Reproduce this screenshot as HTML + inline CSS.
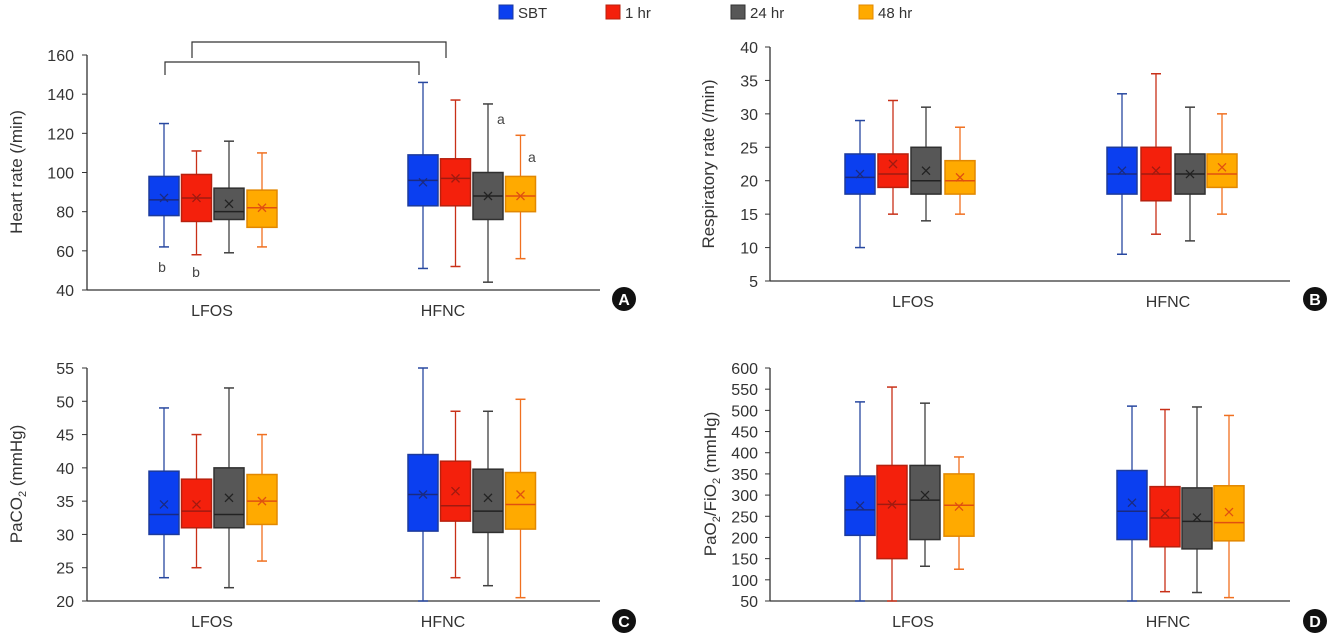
<!DOCTYPE html><html><head><meta charset="utf-8"><style>
body{margin:0;background:#fff}svg{display:block;font-family:"Liberation Sans",sans-serif}
</style></head><body>
<svg id="s" width="1337" height="638" xmlns="http://www.w3.org/2000/svg"></svg>
<script>
const S=document.getElementById('s');let h='';
const fills=['#0b3ff0','#f4200c','#575757','#ffaa00'],bords=['#1c3a9c','#b8200e','#303030','#e28800'],wh=['#2848a0','#c83018','#404040','#f07020'],mk=['#1a2a80','#a01a10','#222','#e05010'];
h+=`<rect x="0" y="0" width="1337" height="638" fill="#fff"/>`;
// legend
[[499,'SBT'],[606,'1 hr'],[731,'24 hr'],[859,'48 hr']].forEach((l,i)=>{h+=`<rect x="${l[0]}" y="5" width="14" height="14" fill="${fills[i]}" stroke="${bords[i]}"/><text x="${l[0]+19}" y="18" font-size="15" fill="#333">${l[1]}</text>`});
function panel(o){
 const {ax,ay0,ay1,ax1,vmin,vmax,step,ticks,lab,labx,labx2,cent,data,tx,letter,lx,ly,ylab,ylx,yly}=o;
 const Y=v=>ay1-(v-vmin)/(vmax-vmin)*(ay1-ay0);
 h+=`<line x1="${ax}" y1="${ay0}" x2="${ax}" y2="${ay1}" stroke="#333" stroke-width="1.3"/><line x1="${ax}" y1="${ay1}" x2="${ax1}" y2="${ay1}" stroke="#333" stroke-width="1.3"/>`;
 for(let v=vmin;v<=vmax+1e-9;v+=step){const y=Y(v);h+=`<line x1="${ax-5}" y1="${y}" x2="${ax}" y2="${y}" stroke="#333"/><text x="${tx}" y="${y+6}" font-size="16" fill="#333" text-anchor="end">${v}</text>`}
 h+=`<text x="${labx}" y="${ay1+26}" font-size="16" fill="#333" text-anchor="middle">LFOS</text><text x="${labx2}" y="${ay1+26}" font-size="16" fill="#333" text-anchor="middle">HFNC</text>`;
 data.forEach((d,k)=>{const i=k%4,c=cent[k],w=15;const [lo,hi,q1,q3,md,mn]=d;
  h+=`<line x1="${c}" y1="${Y(lo)}" x2="${c}" y2="${Y(hi)}" stroke="${wh[i]}" stroke-width="1.3"/><line x1="${c-5}" y1="${Y(lo)}" x2="${c+5}" y2="${Y(lo)}" stroke="${wh[i]}" stroke-width="1.5"/><line x1="${c-5}" y1="${Y(hi)}" x2="${c+5}" y2="${Y(hi)}" stroke="${wh[i]}" stroke-width="1.5"/>`;
  h+=`<rect x="${c-w}" y="${Y(q3)}" width="${2*w}" height="${Y(q1)-Y(q3)}" fill="${fills[i]}" stroke="${bords[i]}" stroke-width="1.5"/>`;
  h+=`<line x1="${c-w}" y1="${Y(md)}" x2="${c+w}" y2="${Y(md)}" stroke="${mk[i]}" stroke-width="1.5"/>`;
  const m=Y(mn);h+=`<path d="M${c-4} ${m-4}L${c+4} ${m+4}M${c+4} ${m-4}L${c-4} ${m+4}" stroke="${mk[i]}" stroke-width="1.3"/>`;});
 h+=`<circle cx="${lx}" cy="${ly}" r="12" fill="#111"/><text x="${lx}" y="${ly+6}" font-size="16" font-weight="bold" fill="#fff" text-anchor="middle">${letter}</text>`;
 h+=`<text transform="translate(${ylx},${yly}) rotate(-90)" font-size="17" fill="#333" text-anchor="middle">${ylab}</text>`;
 return Y;
}
const cA=[164,196.5,229,262,423,455.5,488,520.5];
const YA=panel({ax:87,ay0:55,ay1:290,ax1:600,vmin:40,vmax:160,step:20,tx:74,labx:212,labx2:443,cent:cA,letter:'A',lx:624,ly:299,ylab:'Heart rate (/min)',ylx:22,yly:172,
data:[[62,125,78,98,86,87],[58,111,75,99,87,87],[59,116,76,92,80,84],[62,110,72,91,82,82],[51,146,83,109,96,95],[52,137,83,107,97,97],[44,135,76,100,88,88],[56,119,80,98,88,88]]});
h+=`<path d="M165 75V62H419V75M192 58V42H446V58" fill="none" stroke="#333" stroke-width="1.2"/>`;
h+=`<text x="162" y="272" font-size="14" fill="#444" text-anchor="middle">b</text><text x="196" y="277" font-size="14" fill="#444" text-anchor="middle">b</text><text x="497" y="124" font-size="14" fill="#444">a</text><text x="528" y="162" font-size="14" fill="#444">a</text>`;
panel({ax:770,ay0:47,ay1:281,ax1:1290,vmin:5,vmax:40,step:5,tx:758,labx:913,labx2:1168,cent:[860,893,926,960,1122,1156,1190,1222],letter:'B',lx:1315,ly:299,ylab:'Respiratory rate (/min)',ylx:714,yly:164,
data:[[10,29,18,24,20.5,21],[15,32,19,24,21,22.5],[14,31,18,25,20,21.5],[15,28,18,23,20,20.5],[9,33,18,25,21,21.5],[12,36,17,25,21,21.5],[11,31,18,24,21,21],[15,30,19,24,21,22]]});
panel({ax:87,ay0:368,ay1:601,ax1:600,vmin:20,vmax:55,step:5,tx:74,labx:212,labx2:443,cent:cA,letter:'C',lx:624,ly:621,ylab:'PaCO<tspan font-size="11" dy="4">2</tspan><tspan dy="-4"> (mmHg)</tspan>',ylx:22,yly:484,
data:[[23.5,49,30,39.5,33,34.5],[25,45,31,38.3,33.5,34.5],[22,52,31,40,33,35.5],[26,45,31.5,39,35,35],[20,55,30.5,42,36,36],[23.5,48.5,32,41,34.3,36.5],[22.3,48.5,30.3,39.8,33.5,35.5],[20.5,50.3,30.8,39.3,34.5,36]]});
panel({ax:770,ay0:368,ay1:601,ax1:1290,vmin:50,vmax:600,step:50,tx:758,labx:913,labx2:1168,cent:[860,892,925,959,1132,1165,1197,1229],letter:'D',lx:1315,ly:621,ylab:'PaO<tspan font-size="11" dy="4">2</tspan><tspan dy="-4">/FiO</tspan><tspan font-size="11" dy="4">2</tspan><tspan dy="-4"> (mmHg)</tspan>',ylx:716,yly:484,
data:[[50,520,205,345,265,275],[50,555,150,370,278,278],[132,517,195,370,288,300],[125,390,203,350,276,273],[50,510,195,358,262,282],[72,502,178,320,246,257],[70,508,173,317,238,247],[58,488,192,322,235,260]]});
S.innerHTML=h;
</script></body></html>
